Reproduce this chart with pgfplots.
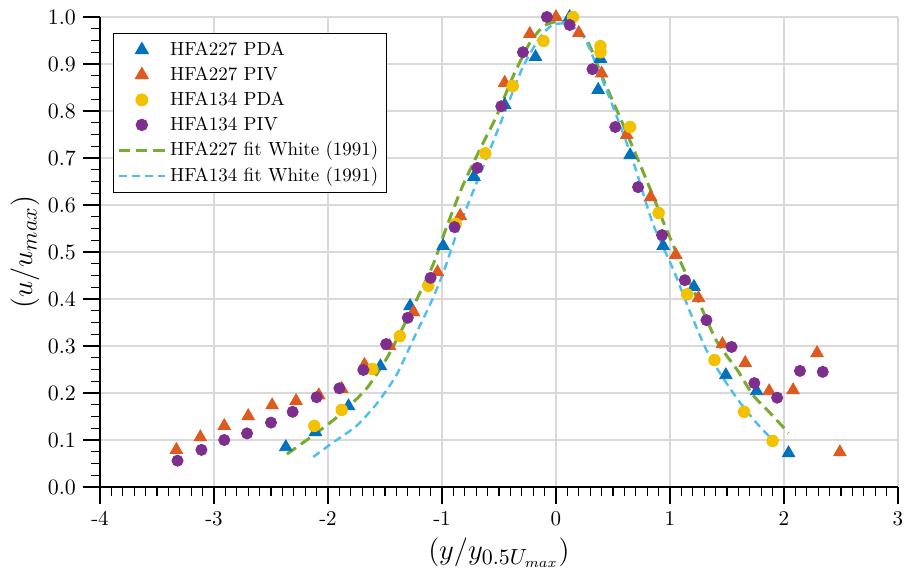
\documentclass[border=0pt]{standalone}
\usepackage{pgfplots}
\pgfplotsset{compat=1.18}
\definecolor{cblue}{HTML}{0072BD}
\definecolor{corange}{HTML}{DE5A1E}
\definecolor{cyellow}{HTML}{F2C200}
\definecolor{cpurple}{HTML}{7E2F8E}
\definecolor{cgreen}{HTML}{77AC30}
\definecolor{clblue}{HTML}{4DBEEE}
\begin{document}
\begin{tikzpicture}
\useasboundingbox (-50pt,-43pt) rectangle (402.5pt,243.5pt);
\begin{axis}[
  scale only axis, width=399pt, height=235pt,
  xmin=-4, xmax=3, ymin=0, ymax=1,
  axis x line*=bottom, axis y line*=left,
  xtick={-4,-3,-2,-1,0,1,2,3},
  xticklabels={-4,-3,-2,-1,0,1,2,3},
  ytick={0,0.1,0.2,0.3,0.4,0.5,0.6,0.7,0.8,0.9,1.0},
  yticklabel style={/pgf/number format/.cd,fixed,fixed zerofill,precision=1},
  minor x tick num=9, minor y tick num=3,
  tick align=outside, major tick length=8.5pt, minor tick length=4.5pt,
  grid=major, major grid style={gray!30, line width=0.6pt},
  axis line style={black, line width=0.7pt},
  tick style={black, line width=0.6pt},
  tick label style={font=\fontsize{10.5}{12}\selectfont},
  xlabel={$\left(y/y_{0.5U_{max}}\right)$},
  ylabel={$\left(u/u_{max}\right)$},
  label style={font=\fontsize{15}{17}\selectfont},
  xlabel style={at={(axis description cs:0.5,0)}, anchor=center, yshift=-33pt},
  ylabel style={at={(axis description cs:-0.094,0.5)}, anchor=center},
  clip=false,
  legend image code/.code={\draw[mark repeat=2,mark phase=2,#1] plot coordinates {(0cm,0cm) (0.4cm,0cm) (0.8cm,0cm)};},
  legend cell align=left,
  legend style={at={(0.0163,0.966)}, anchor=north west, draw=black, line width=0.6pt,
    font=\fontsize{9.5}{11}\selectfont, row sep=0.2pt, inner sep=2pt},
]
% HFA227 PDA
\addplot[only marks, mark=triangle*, mark size=3.6pt, color=cblue] coordinates {
(-2.37,0.085) (-2.11,0.117) (-1.82,0.172) (-1.54,0.257) (-1.28,0.385) (-0.99,0.513)
(-0.72,0.660) (-0.45,0.813) (-0.18,0.915) (0.12,1.0) (0.37,0.845) (0.39,0.911)
(0.65,0.706) (0.94,0.513) (1.21,0.426) (1.49,0.238) (1.76,0.204) (2.04,0.072)};
\addlegendentry{HFA227 PDA}
% HFA227 PIV
\addplot[only marks, mark=triangle*, mark size=3.6pt, color=corange] coordinates {
(-3.33,0.079) (-3.12,0.106) (-2.91,0.130) (-2.70,0.151) (-2.49,0.174) (-2.28,0.183)
(-2.08,0.195) (-1.88,0.209) (-1.68,0.260) (-1.46,0.300) (-1.25,0.372) (-1.04,0.457)
(-0.84,0.577) (-0.45,0.860) (-0.23,0.964) (0.0,1.0) (0.20,0.966) (0.40,0.880)
(0.62,0.749) (0.83,0.617) (1.05,0.494) (1.25,0.402) (1.46,0.304) (1.66,0.264)
(1.87,0.204) (2.08,0.206) (2.29,0.285) (2.49,0.074)};
\addlegendentry{HFA227 PIV}
% HFA134 PDA
\addplot[only marks, mark=*, mark size=2.9pt, color=cyellow] coordinates {
(-2.12,0.130) (-1.88,0.164) (-1.61,0.251) (-1.37,0.321) (-1.12,0.428) (-0.88,0.560)
(-0.62,0.710) (-0.38,0.853) (-0.11,0.949) (0.15,1.0) (0.39,0.938) (0.39,0.925)
(0.65,0.766) (0.90,0.583) (1.15,0.410) (1.39,0.270) (1.65,0.160) (1.90,0.098)};
\addlegendentry{HFA134 PDA}
% HFA134 PIV
\addplot[only marks, mark=*, mark size=2.8pt, color=cpurple] coordinates {
(-3.32,0.056) (-3.11,0.079) (-2.91,0.100) (-2.71,0.114) (-2.50,0.137) (-2.31,0.160)
(-2.10,0.191) (-1.90,0.210) (-1.69,0.249) (-1.49,0.304) (-1.30,0.360) (-1.10,0.445)
(-0.89,0.553) (-0.69,0.679) (-0.48,0.810) (-0.29,0.925) (-0.08,1.0) (0.12,0.983)
(0.32,0.889) (0.52,0.766) (0.72,0.638) (0.93,0.536) (1.13,0.440) (1.32,0.355)
(1.54,0.298) (1.74,0.221) (1.94,0.190) (2.14,0.247) (2.34,0.245)};
\addlegendentry{HFA134 PIV}
% fits
\addplot[color=cgreen, line width=1.5pt, dash pattern=on 5.5pt off 3pt, smooth, tension=0.4] coordinates {
(-2.36,0.070) (-2.10,0.115) (-1.89,0.155) (-1.66,0.210) (-1.47,0.280) (-1.25,0.385)
(-1.08,0.472) (-0.96,0.553) (-0.82,0.640) (-0.67,0.717) (-0.52,0.790) (-0.38,0.872)
(-0.23,0.945) (-0.11,0.980) (0.0,0.990) (0.10,0.985) (0.27,0.951) (0.41,0.870)
(0.56,0.787) (0.71,0.702) (0.85,0.620) (0.96,0.553) (1.10,0.475) (1.26,0.390)
(1.41,0.310) (1.59,0.249) (1.73,0.195) (1.88,0.157) (2.04,0.115)};
\addlegendentry{HFA227 fit White (1991)}
\addplot[color=clblue, line width=1.2pt, dash pattern=on 4pt off 2.5pt, smooth, tension=0.4] coordinates {
(-2.13,0.064) (-1.96,0.094) (-1.75,0.130) (-1.57,0.178) (-1.40,0.238) (-1.25,0.315)
(-1.10,0.391) (-0.99,0.455) (-0.87,0.540) (-0.75,0.615) (-0.58,0.717) (-0.43,0.809)
(-0.29,0.894) (-0.14,0.957) (-0.03,0.983) (0.10,0.985) (0.24,0.960) (0.36,0.894)
(0.50,0.809) (0.62,0.732) (0.71,0.668) (0.85,0.560) (1.03,0.462) (1.18,0.370)
(1.32,0.291) (1.46,0.234) (1.61,0.181) (1.76,0.136) (1.88,0.105)};
\addlegendentry{HFA134 fit White (1991)}
\end{axis}
\end{tikzpicture}
\end{document}
